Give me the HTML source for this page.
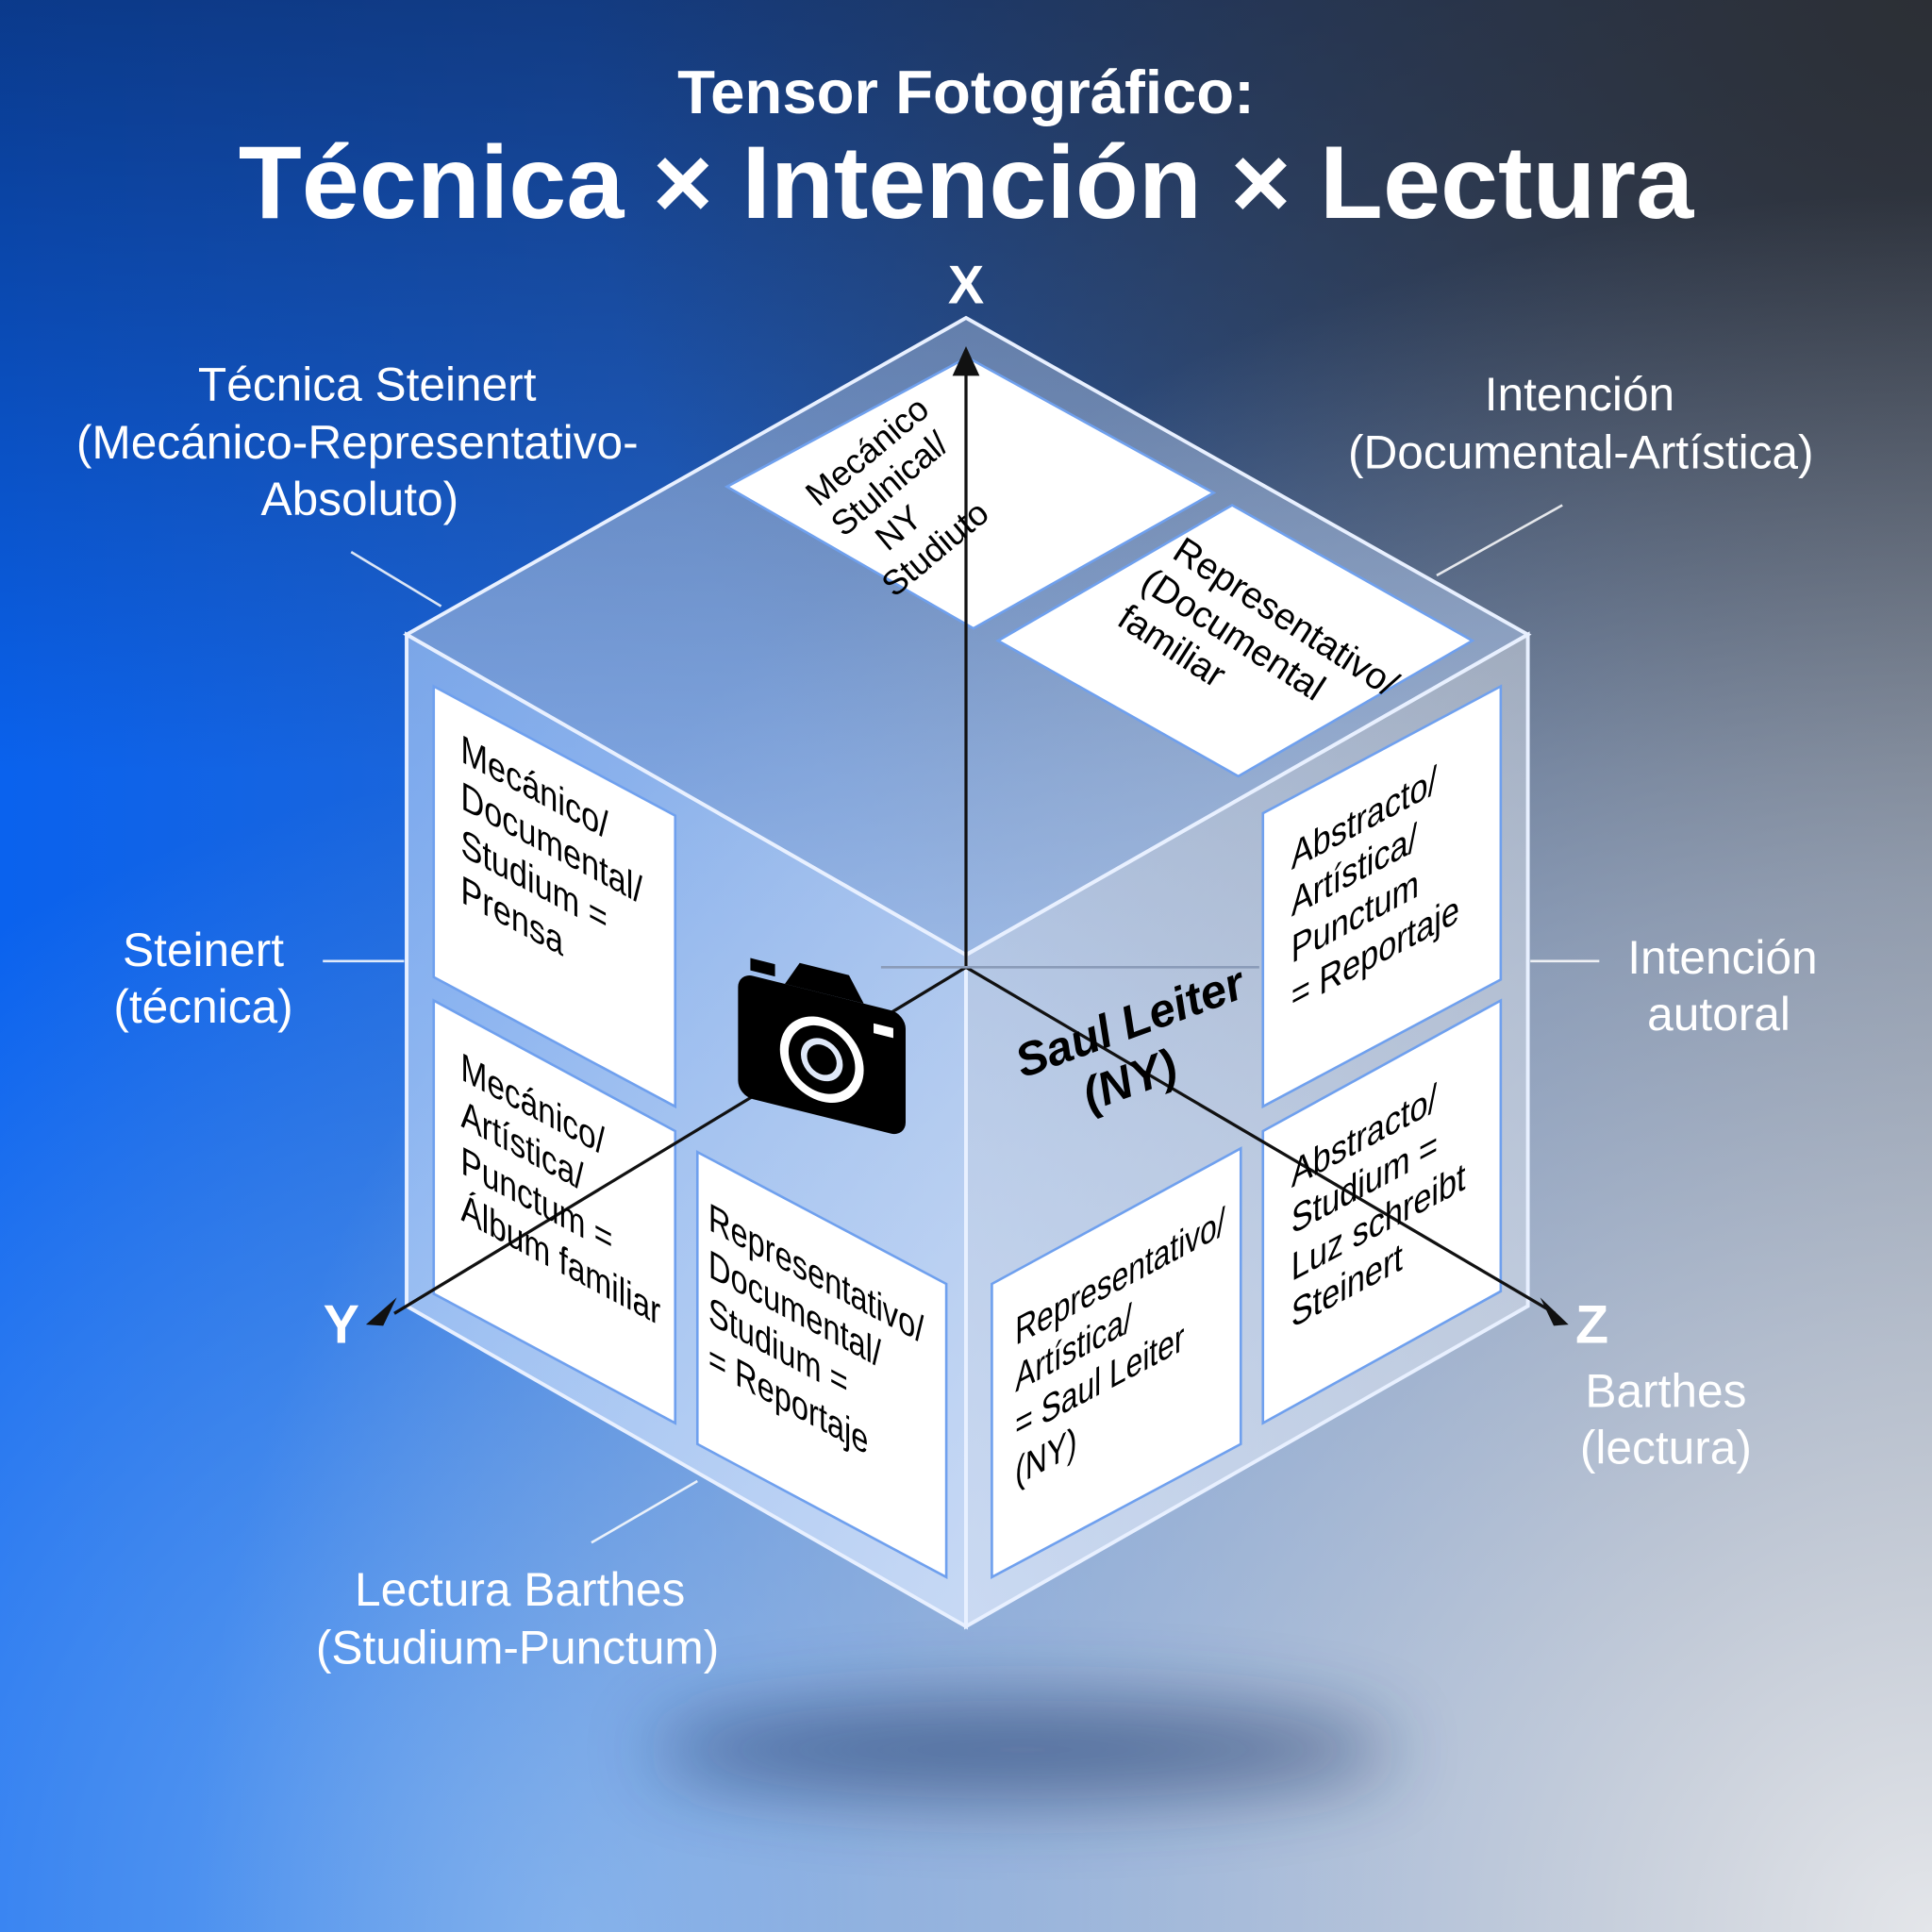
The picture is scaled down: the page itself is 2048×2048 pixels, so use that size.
<!DOCTYPE html>
<html><head><meta charset="utf-8"><style>
html,body{margin:0;padding:0;width:2048px;height:2048px;overflow:hidden}
svg{display:block}
</style></head><body>
<svg width="2048" height="2048" viewBox="0 0 1568 1568" xmlns="http://www.w3.org/2000/svg" font-family="'Liberation Sans', sans-serif">
<defs>
<linearGradient id="bg" x1="0" y1="0" x2="1" y2="0">
<stop offset="0" stop-color="#0a62ee"/><stop offset="0.45" stop-color="#2a68c8"/><stop offset="1" stop-color="#6b7584"/>
</linearGradient>
<linearGradient id="top" x1="0" y1="0" x2="0" y2="1">
<stop offset="0" stop-color="#0b2456" stop-opacity="0.65"/><stop offset="0.4" stop-color="#0b2456" stop-opacity="0"/>
</linearGradient>
<radialGradient id="tr" cx="1" cy="0" r="0.7">
<stop offset="0" stop-color="#2c2f35"/><stop offset="1" stop-color="#2c2f35" stop-opacity="0"/>
</radialGradient>
<radialGradient id="br" cx="1" cy="1" r="0.9">
<stop offset="0" stop-color="#e4e6ea"/><stop offset="0.6" stop-color="#b8c4d8" stop-opacity="0.6"/><stop offset="1" stop-color="#b8c4d8" stop-opacity="0"/>
</radialGradient>
<radialGradient id="bl" cx="0.3" cy="1" r="0.6">
<stop offset="0" stop-color="#6aa8f5"/><stop offset="1" stop-color="#6aa8f5" stop-opacity="0"/>
</radialGradient>
<linearGradient id="lf" x1="0" y1="0" x2="1" y2="1">
<stop offset="0" stop-color="#b0cdf6" stop-opacity="0.65"/><stop offset="1" stop-color="#d4e3fb" stop-opacity="0.8"/>
</linearGradient>
<linearGradient id="rf" x1="1" y1="0" x2="0" y2="1">
<stop offset="0" stop-color="#c7cfdc" stop-opacity="0.6"/><stop offset="1" stop-color="#d8e4f8" stop-opacity="0.8"/>
</linearGradient>
<linearGradient id="tf" x1="0" y1="0" x2="0" y2="1">
<stop offset="0" stop-color="#8ea4c8" stop-opacity="0.6"/><stop offset="1" stop-color="#b4cbee" stop-opacity="0.7"/>
</linearGradient>
<filter id="blur" x="-50%" y="-200%" width="200%" height="500%"><feGaussianBlur stdDeviation="30"/></filter>
</defs>
<rect width="1568" height="1568" fill="url(#bg)"/>
<rect width="1568" height="1568" fill="url(#top)"/>
<rect width="1568" height="1568" fill="url(#tr)"/>
<rect width="1568" height="1568" fill="url(#bl)"/>
<rect width="1568" height="1568" fill="url(#br)"/>
<ellipse cx="830" cy="1420" rx="300" ry="40" fill="#1d3566" opacity="0.55" filter="url(#blur)"/>

<text x="784" y="92" text-anchor="middle" fill="#fff" font-size="50" font-weight="bold">Tensor Fotográfico:</text>
<text x="784" y="177" text-anchor="middle" fill="#fff" font-size="84" font-weight="bold">Técnica × Intención × Lectura</text>
<text x="784" y="246" text-anchor="middle" fill="#fff" font-size="44" font-weight="bold">X</text>

<polygon points="784,258 1240,515 784,775 330,515" fill="url(#tf)" stroke="#e8f0ff" stroke-width="3"/>
<polygon points="330,515 784,775 784,1320 330,1060" fill="url(#lf)" stroke="#e8f0ff" stroke-width="3"/>
<polygon points="784,775 1240,515 1240,1060 784,1320" fill="url(#rf)" stroke="#e8f0ff" stroke-width="3"/>

<g fill="#fff" stroke="#6fa0ee" stroke-width="2">
<polygon points="590,395 785,290 985,400 790,510"/>
<polygon points="810,520 1000,410 1195,520 1005,630"/>
<polygon points="352,557 548,662 548,898 352,793"/>
<polygon points="352,812 548,918 548,1155 352,1050"/>
<polygon points="566,935 768,1042 768,1280 566,1172"/>
<polygon points="1025,660 1218,557 1218,795 1025,898"/>
<polygon points="1025,918 1218,812 1218,1048 1025,1155"/>
<polygon points="805,1042 1007,932 1007,1172 805,1280"/>
</g>

<g stroke="#fff" stroke-width="2" opacity="0.85">
<line x1="285" y1="448" x2="358" y2="492"/>
<line x1="1268" y1="410" x2="1166" y2="467"/>
<line x1="262" y1="780" x2="328" y2="780"/>
<line x1="1242" y1="780" x2="1298" y2="780"/>
<line x1="480" y1="1252" x2="566" y2="1202"/>
</g>

<g stroke="#111" stroke-width="2.5">
<line x1="784" y1="785" x2="784" y2="295"/>
<line x1="784" y1="785" x2="320" y2="1066"/>
<line x1="784" y1="785" x2="1262" y2="1066"/>
<line x1="715" y1="785" x2="1022" y2="785" stroke="#8a9bb8" stroke-width="2"/>
</g>
<polygon points="784,281 773,305 795,305" fill="#111"/>
<polygon points="297,1075 322,1053 311,1076" fill="#111"/>
<polygon points="1273,1075 1250,1053 1261,1076" fill="#111"/>

<g transform="translate(667,858) skewY(14)">
<rect x="-68" y="-52" width="136" height="100" rx="12" fill="#000"/>
<path d="M-30,-52 L-18,-72 L22,-72 L34,-52Z" fill="#000"/>
<rect x="-58" y="-66" width="20" height="10" fill="#000"/>
<circle cx="0" cy="2" r="34" fill="#fff"/>
<circle cx="0" cy="2" r="27" fill="#000"/>
<circle cx="0" cy="2" r="17" fill="#dfe8f8"/>
<circle cx="0" cy="2" r="12" fill="#000"/>
<rect x="42" y="-38" width="16" height="8" fill="#fff"/>
</g>

<g fill="#000" font-size="32">
<g transform="translate(374,618) skewY(28) scale(0.82,1)"><text>Mecánico/<tspan x="0" dy="38">Documental/</tspan><tspan x="0" dy="38">Studium =</tspan><tspan x="0" dy="38">Prensa</tspan></text></g>
<g transform="translate(374,876) skewY(28) scale(0.8,1)"><text>Mecánico/<tspan x="0" dy="38">Artística/</tspan><tspan x="0" dy="38">Punctum =</tspan><tspan x="0" dy="38">Álbum familiar</tspan></text></g>
<g transform="translate(575,998) skewY(28) scale(0.78,1)"><text>Representativo/<tspan x="0" dy="38">Documental/</tspan><tspan x="0" dy="38">Studium =</tspan><tspan x="0" dy="38">= Reportaje</tspan></text></g>
<g transform="translate(1048,706) skewY(-28) scale(0.82,1)"><text>Abstracto/<tspan x="0" dy="38">Artística/</tspan><tspan x="0" dy="38">Punctum</tspan><tspan x="0" dy="38">= Reportaje</tspan></text></g>
<g transform="translate(1048,964) skewY(-28) scale(0.82,1)"><text>Abstracto/<tspan x="0" dy="38">Studium =</tspan><tspan x="0" dy="38">Luz schreibt</tspan><tspan x="0" dy="38">Steinert</tspan></text></g>
<g transform="translate(824,1092) skewY(-28) scale(0.76,1)"><text>Representativo/<tspan x="0" dy="38">Artística/</tspan><tspan x="0" dy="38">= Saul Leiter</tspan><tspan x="0" dy="38">(NY)</tspan></text></g>
<g transform="translate(664,412) rotate(-40)" font-size="28"><text>Mecánico<tspan x="0" dy="32">Stulnical/</tspan><tspan x="20" dy="32">NY</tspan><tspan x="0" dy="32">Studiuto</tspan></text></g>
<g transform="translate(950,452) rotate(33)" font-size="30"><text>Representativo/<tspan x="-8" dy="35">(Documental</tspan><tspan x="-8" dy="35">familiar</tspan></text></g>
<g transform="translate(830,875) rotate(-20)" font-size="38" font-weight="bold" font-style="italic"><text>Saul Leiter<tspan x="42" dy="44">(NY)</tspan></text></g>
</g>

<g fill="#fff" font-size="38" text-anchor="middle">
<text x="298" y="325">Técnica Steinert</text>
<text x="290" y="372">(Mecánico-Representativo-</text>
<text x="292" y="418">Absoluto)</text>
<text x="1282" y="333">Intención</text>
<text x="1283" y="380">(Documental-Artística)</text>
<text x="165" y="784">Steinert</text>
<text x="165" y="830">(técnica)</text>
<text x="1398" y="790">Intención</text>
<text x="1395" y="836">autoral</text>
<text x="1292" y="1090" font-size="44" font-weight="bold">Z</text>
<text x="277" y="1090" font-size="44" font-weight="bold">Y</text>
<text x="1352" y="1142">Barthes</text>
<text x="1352" y="1188">(lectura)</text>
<text x="422" y="1303">Lectura Barthes</text>
<text x="420" y="1350">(Studium-Punctum)</text>
</g>
</svg>
</body></html>
